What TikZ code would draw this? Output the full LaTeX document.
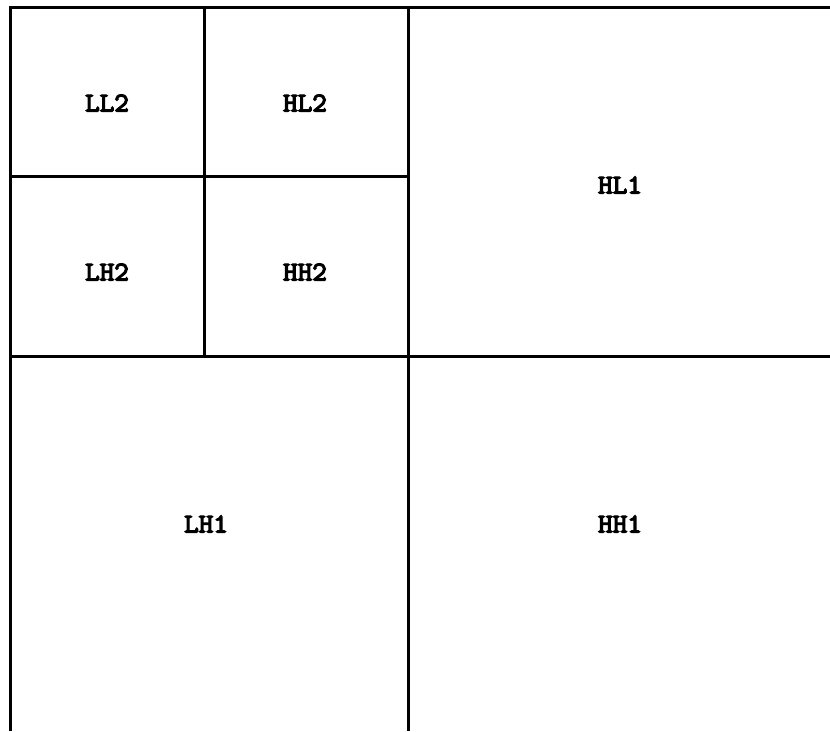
\documentclass[tikz,border=0pt]{standalone}
\usepackage{fontspec}
\newfontfamily\lblfont[FakeBold=4.5]{Latin Modern Mono}
\begin{document}
\begin{tikzpicture}[x=1pt,y=-1pt,
  band/.style={line width=3pt},
  lbl/.style={font=\lblfont\bfseries\fontsize{27}{29}\selectfont, xscale=1.05}]
\useasboundingbox (0,0) rectangle (830,731);
\coordinate (tl) at (10,7);
\coordinate (tr) at (830,7);
\coordinate (bl) at (10,731);
\coordinate (mt) at (408,7);
\coordinate (mb) at (408,731);
\coordinate (ml) at (10,356);
\coordinate (mr) at (830,356);
\coordinate (it) at (204,7);
\coordinate (ib) at (204,356);
\coordinate (il) at (10,176);
\coordinate (ir) at (408,176);
\draw[band] (bl) -- (tl) -- (tr);
\draw[band] (mt) -- (mb);
\draw[band] (ml) -- (mr);
\draw[band] (it) -- (ib);
\draw[band] (il) -- (ir);
\node[lbl] (ll2) at (107,103) {LL2};
\node[lbl] (hl2) at (305,103) {HL2};
\node[lbl] (lh2) at (107,272) {LH2};
\node[lbl] (hh2) at (305,272) {HH2};
\node[lbl] (hl1) at (620,185) {HL1};
\node[lbl] (lh1) at (206,524) {LH1};
\node[lbl] (hh1) at (620,524) {HH1};
\end{tikzpicture}
\end{document}
